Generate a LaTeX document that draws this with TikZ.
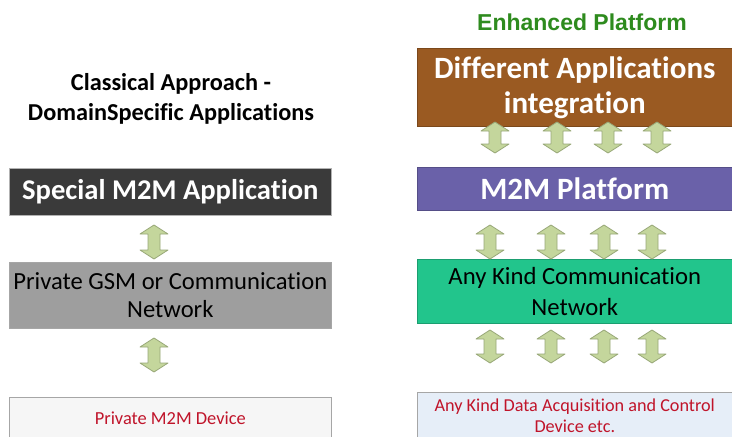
\documentclass[tikz,border=0pt]{standalone}
\usepackage{fontspec}
\setmainfont{Carlito}[Ligatures={NoCommon}]
\newfontfamily\arialfont{Liberation Sans}
\definecolor{darkbox}{HTML}{3A3A3A}
\definecolor{greybox}{HTML}{9E9E9E}
\definecolor{brownbox}{HTML}{9A5A22}
\definecolor{purplebox}{HTML}{6A61A9}
\definecolor{greenbox}{HTML}{22C58C}
\definecolor{bluebox}{HTML}{E6EEF8}
\definecolor{whitebox}{HTML}{F6F6F6}
\definecolor{arrowfill}{HTML}{C4D69C}
\definecolor{arrowdraw}{HTML}{98A878}
\definecolor{redtext}{HTML}{C0142A}
\definecolor{greentext}{HTML}{2E8B1E}
\tikzset{
  layer/.style={rectangle, anchor=north west, inner sep=0pt, align=center, draw=gray!70, line width=0.6pt},
  blk/.style={fill=arrowfill, draw=arrowdraw, line width=0.8pt, line join=round},
}
\newcommand{\blockarrow}[3]{% x, ytop, ybottom
  \draw[blk] (#1,#2) -- ++(14,9) -- ++(-8,0) -- (#1+6,#3-9) -- ++(8,0) -- (#1,#3)
    -- ++(-14,-9) -- ++(8,0) -- (#1-6,#2+9) -- ++(-8,0) -- cycle;}
\begin{document}
\begin{tikzpicture}[x=1pt,y=-1pt]
\clip (0,0) rectangle (732,437);
\fill[white] (0,0) rectangle (732,437);
% left column
\node[align=center, font=\bfseries\fontsize{24.3}{30}\selectfont] (ltitle) at (171,99) {Classical Approach -\\DomainSpecific Applications};
\node[layer, fill=darkbox, draw=gray!60, minimum width=322pt, minimum height=47pt, text=white, font=\bfseries\fontsize{28.6}{32}\selectfont] (spec) at (9,168) {Special M2M Application};
\node[layer, fill=greybox, minimum width=322pt, minimum height=66pt, font=\fontsize{24.6}{28}\selectfont] (gsm) at (9,262) {Private GSM or Communication\\Network};
\node[layer, fill=whitebox, minimum width=322pt, minimum height=42pt, text=redtext, font=\fontsize{18.4}{21}\selectfont] (dev) at (9,397) {Private M2M Device};
\blockarrow{154}{225}{259}
\blockarrow{154}{338}{372}
% right column
\node[font=\arialfont\bfseries\fontsize{23}{26}\selectfont, text=greentext] (rtitle) at (582,22) {Enhanced Platform};
\node[layer, fill=brownbox, draw=brownbox!80!black, minimum width=315pt, minimum height=78pt, text=white, font=\bfseries\fontsize{31}{35}\selectfont] (diff) at (417,48) {Different Applications\\integration};
\node[layer, fill=purplebox, draw=purplebox!80!black, minimum width=315pt, minimum height=43pt, text=white, font=\bfseries\fontsize{31}{34}\selectfont] (plat) at (417,167) {M2M Platform};
\node[layer, fill=greenbox, draw=greenbox!80!black, minimum width=315pt, minimum height=64pt, font=\fontsize{24.7}{31}\selectfont] (net) at (417,259) {Any Kind Communication\\Network};
\node[layer, fill=bluebox, minimum width=315pt, minimum height=47pt, text=redtext, font=\fontsize{18.2}{21}\selectfont] (daq) at (417,392) {Any Kind Data Acquisition and Control\\Device etc.};
\foreach \x in {495,557,608,657} {\blockarrow{\x}{122}{153}}
\foreach \x in {490,551,604,652} {\blockarrow{\x}{225}{259}}
\foreach \x in {490,551,604,652} {\blockarrow{\x}{330}{363}}
\end{tikzpicture}
\end{document}
